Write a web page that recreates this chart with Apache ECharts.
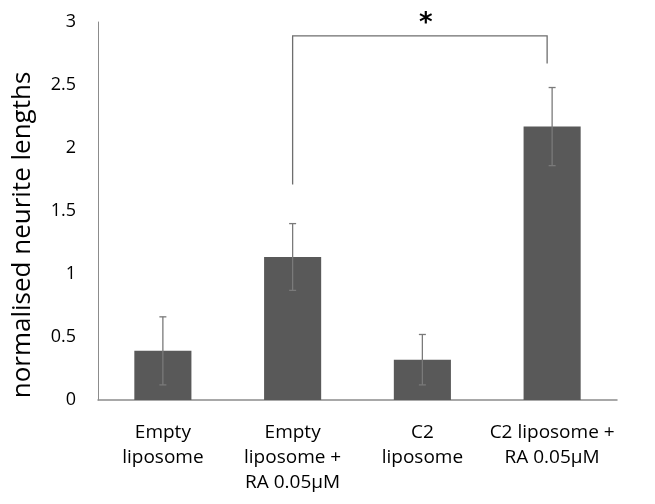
<!DOCTYPE html>
<html><head><meta charset="utf-8">
<script src="https://cdn.jsdelivr.net/npm/echarts@6/dist/echarts.min.js"></script>
<style>html,body{margin:0;padding:0;background:#fff}#c{width:655px;height:504px}</style>
</head><body><div id="c"></div>
<script>
const categories = ['Empty\nliposome', 'Empty\nliposome +\nRA 0.05\u00b5M', 'C2\nliposome', 'C2 liposome +\nRA 0.05\u00b5M'];
const means = [0.39, 1.135, 0.32, 2.17];
const errors = [0.27, 0.265, 0.20, 0.31];
const yTicks = [0, 0.5, 1, 1.5, 2, 2.5, 3];
const bracket = { from: 1, to: 3, top: 2.89, leftBottom: 1.71, rightBottom: 2.67, label: '*' };

const errData = means.map((m, i) => [i, m - errors[i], m + errors[i]]);
const chart = echarts.init(document.getElementById('c'));
const font = 'Open Sans, Liberation Sans, sans-serif';
chart.setOption({
  animation: false,
  grid: { left: 98, right: 38, top: 22, bottom: 104 },
  xAxis: {
    type: 'category', data: categories,
    axisTick: { show: false },
    axisLine: { lineStyle: { color: '#8c8c8c', width: 1.5 } },
    axisLabel: { color: '#000', fontSize: 19, lineHeight: 25, margin: 20, fontFamily: font, interval: 0 }
  },
  yAxis: {
    type: 'value', min: 0, max: 3, interval: 0.5,
    splitLine: { show: false },
    axisTick: { show: false },
    axisLine: { show: true, lineStyle: { color: '#8c8c8c', width: 1 } },
    axisLabel: { color: '#000', fontSize: 18, margin: 22, fontFamily: font,
      formatter: v => yTicks.includes(v) ? String(v) : '' }
  },
  graphic: [{
    type: 'text', x: 23, y: 235, rotation: Math.PI / 2,
    style: { text: 'normalised neurite lengths', fill: '#000', fontSize: 26, fontFamily: font,
      textAlign: 'center', textVerticalAlign: 'middle' }
  }],
  series: [{
    type: 'bar', data: means, barCategoryGap: '56%',
    itemStyle: { color: '#595959' }
  }, {
    type: 'custom', data: errData, z: 10,
    renderItem: (params, api) => {
      const x = api.value(0);
      const lo = api.coord([x, api.value(1)]);
      const hi = api.coord([x, api.value(2)]);
      const w = 3.5;
      const st = { stroke: '#7a7a7a', lineWidth: 1.3 };
      return { type: 'group', children: [
        { type: 'line', shape: { x1: lo[0], y1: lo[1], x2: hi[0], y2: hi[1] }, style: st },
        { type: 'line', shape: { x1: lo[0] - w, y1: lo[1], x2: lo[0] + w, y2: lo[1] }, style: st },
        { type: 'line', shape: { x1: hi[0] - w, y1: hi[1], x2: hi[0] + w, y2: hi[1] }, style: st }
      ]};
    }
  }, {
    type: 'custom', data: [[bracket.from, bracket.to]], z: 10,
    renderItem: (params, api) => {
      const a = api.coord([bracket.from, bracket.top]);
      const aB = api.coord([bracket.from, bracket.leftBottom]);
      const b = api.coord([bracket.to, bracket.top]);
      const bB = api.coord([bracket.to, bracket.rightBottom]);
      const bx = b[0] - 5;
      const st = { stroke: '#6e6e6e', lineWidth: 1.3, fill: null };
      return { type: 'group', children: [
        { type: 'polyline', shape: { points: [[a[0], aB[1]], [a[0], a[1]], [bx, b[1]], [bx, bB[1]]] }, style: st },
        { type: 'text', style: { text: bracket.label, x: (a[0] + bx) / 2 + 6, y: a[1] - 12,
          fill: '#000', fontSize: 26, fontWeight: 'bold', fontFamily: 'DejaVu Sans, sans-serif',
          textAlign: 'center', textVerticalAlign: 'middle' } }
      ]};
    }
  }]
});
</script></body></html>
